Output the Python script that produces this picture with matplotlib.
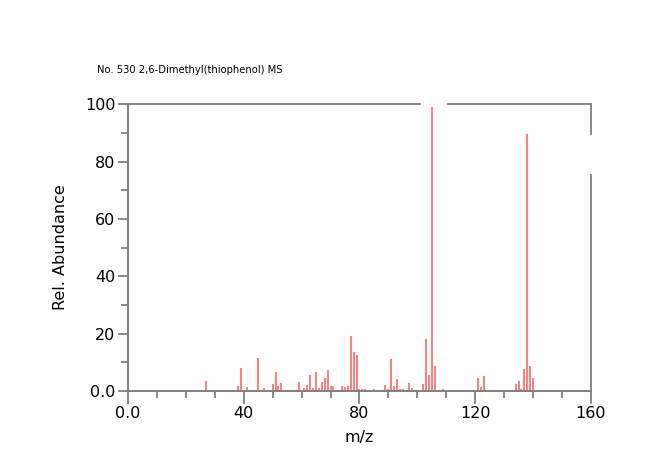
import matplotlib
matplotlib.use("Agg")
import matplotlib.pyplot as plt
from matplotlib.ticker import MultipleLocator, FuncFormatter

title = "No. 530 2,6-Dimethyl(thiophenol) MS"

# m/z values and relative abundances
mz = [27, 28, 37, 38, 39, 40, 41, 45, 46, 47,
      50, 51, 52, 53, 58, 59, 61, 62, 63, 64,
      65, 66, 67, 68, 69, 70, 71, 74, 75, 76,
      77, 78, 79, 80, 81, 82, 83, 85, 89, 90,
      91, 92, 93, 94, 95, 97, 98, 102, 103, 104,
      105, 106, 109, 111, 121, 122, 123, 134, 135, 136,
      137, 138, 139, 140]
abund = [3.6, 0.3, 0.5, 1.6, 8.1, 0.5, 1.3, 11.6, 0.5, 1.0,
         2.3, 6.5, 1.7, 2.7, 0.5, 3.0, 1.2, 2.1, 5.6, 1.2,
         6.5, 1.2, 3.2, 4.4, 7.4, 1.6, 1.8, 1.6, 1.4, 1.6,
         19.2, 13.6, 12.4, 0.8, 0.8, 0.8, 0.5, 0.6, 2.1, 0.8,
         11.1, 1.6, 4.1, 0.8, 0.8, 2.9, 1.2, 2.4, 18.2, 5.6,
         98.9, 8.7, 0.6, 0.5, 4.4, 1.4, 5.3, 2.4, 3.6, 0.8,
         7.8, 89.6, 8.7, 4.6]

fig = plt.figure(figsize=(6.5, 4.51), dpi=100)
ax = fig.add_axes([0.197, 0.133, 0.712, 0.636])

ax.vlines(mz, 0, abund, color="#ff5a5a", linewidth=1.1)

ax.set_xlim(0, 160)
ax.set_ylim(0, 100)

gray = "#808080"
for side in ["top", "right"]:
    ax.spines[side].set_visible(False)
for side in ["left", "bottom"]:
    ax.spines[side].set_color(gray)
    ax.spines[side].set_linewidth(1.4)

# top and right frame lines have gaps in the original
ax.plot([0, 0.631], [1, 1], transform=ax.transAxes, color=gray, lw=1.3, clip_on=False)
ax.plot([0.691, 1], [1, 1], transform=ax.transAxes, color=gray, lw=1.3, clip_on=False)
ax.plot([1, 1], [1, 0.895], transform=ax.transAxes, color=gray, lw=1.3, clip_on=False)
ax.plot([1, 1], [0.753, 0], transform=ax.transAxes, color=gray, lw=1.3, clip_on=False)

ax.xaxis.set_major_locator(MultipleLocator(40))
ax.xaxis.set_minor_locator(MultipleLocator(10))
ax.yaxis.set_major_locator(MultipleLocator(20))
ax.yaxis.set_minor_locator(MultipleLocator(10))
fmt = FuncFormatter(lambda v, p: "0.0" if v == 0 else "%d" % v)
ax.xaxis.set_major_formatter(fmt)
ax.yaxis.set_major_formatter(fmt)
ax.tick_params(which="both", color=gray, width=1.3, labelsize=11.5, labelcolor="black")
ax.tick_params(axis="x", which="major", length=9, pad=2)
ax.tick_params(axis="x", which="minor", length=5)
ax.tick_params(axis="y", which="major", length=7, pad=2)
ax.tick_params(axis="y", which="minor", length=5)

ax.set_xlabel("m/z", fontsize=11.5, labelpad=6)
ax.set_ylabel("Rel. Abundance", fontsize=11.5, labelpad=12)

fig.text(0.149, 0.845, title, fontsize=7.2, va="center", ha="left")

fig.savefig("out.png", dpi=100)
